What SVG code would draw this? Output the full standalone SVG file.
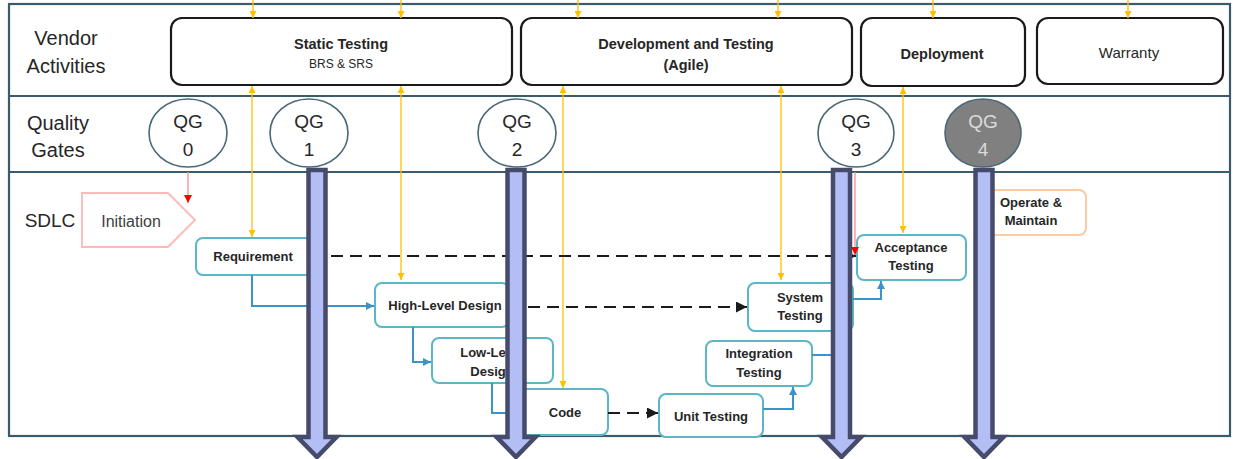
<svg xmlns="http://www.w3.org/2000/svg" width="1233" height="459" viewBox="0 0 1233 459">
<defs>
<style>
text{font-family:"Liberation Sans",Arial,sans-serif;fill:#262626;text-anchor:middle}
.lbl{font-size:20px}
.hdr{font-size:14.5px;font-weight:bold}
.qg{font-size:19px}
.nd{font-size:13px;font-weight:bold}
.act{fill:#fff;stroke:#1a1a1a;stroke-width:2.2}
.gate{fill:#fff;stroke:#4a6878;stroke-width:1.6}
.box{fill:#fff;stroke:#5ab8c6;stroke-width:2}
.tbl{fill:none;stroke:#3b5a6c;stroke-width:2.2}
.yl{fill:none;stroke:#ffc000;stroke-width:1.3}
.rl{fill:none;stroke:#ff8a8a;stroke-width:1.3}
.bl{fill:none;stroke:#3a93c9;stroke-width:2}
.dl{fill:none;stroke:#1a1a1a;stroke-width:2.2;stroke-dasharray:12 7}
.big{fill:#b3bef5;stroke:#464b6b;stroke-width:4.5;stroke-linejoin:miter}
</style>
<marker id="ya" viewBox="0 0 10 10" refX="10" refY="5" markerWidth="7" markerHeight="7" markerUnits="userSpaceOnUse" orient="auto-start-reverse"><path d="M0,0L10,5L0,10Z" fill="#ffc000"/></marker>
<marker id="ra" viewBox="0 0 10 10" refX="10" refY="5" markerWidth="8" markerHeight="8" markerUnits="userSpaceOnUse" orient="auto"><path d="M0,0L10,5L0,10Z" fill="#ff0000"/></marker>
<marker id="ba" viewBox="0 0 10 10" refX="10" refY="5" markerWidth="8" markerHeight="8" markerUnits="userSpaceOnUse" orient="auto"><path d="M0,0L10,5L0,10Z" fill="#3a93c9"/></marker>
<marker id="ka" viewBox="0 0 10 10" refX="10" refY="5" markerWidth="11" markerHeight="11" markerUnits="userSpaceOnUse" orient="auto"><path d="M0,0L10,5L0,10Z" fill="#1a1a1a"/></marker>
</defs>

<g id="table">
<rect class="tbl" x="9" y="4" width="1221" height="432"/>
<line class="tbl" x1="9" y1="96" x2="1230" y2="96"/>
<line class="tbl" x1="9" y1="172" x2="1230" y2="172"/>
<text class="lbl" x="66" y="45">Vendor</text>
<text class="lbl" x="66" y="73">Activities</text>
<text class="lbl" x="58" y="130">Quality</text>
<text class="lbl" x="58" y="157">Gates</text>
<text class="lbl" x="50" y="227" style="font-size:19px">SDLC</text>
</g>

<g id="static-testing">
<rect class="act" x="171" y="18" width="341" height="67" rx="11"/>
<text class="hdr" x="341" y="49">Static Testing</text>
<text x="341" y="68" style="font-size:12px">BRS &amp; SRS</text>
</g>
<g id="dev-testing">
<rect class="act" x="521" y="18" width="331" height="67" rx="11"/>
<text class="hdr" x="686" y="49">Development and Testing</text>
<text class="hdr" x="686" y="70">(Agile)</text>
</g>
<g id="deployment">
<rect class="act" x="861" y="18" width="164" height="68" rx="11"/>
<text class="hdr" x="942" y="59">Deployment</text>
</g>
<g id="warranty">
<rect class="act" x="1037" y="18" width="186" height="66" rx="11"/>
<text x="1129" y="58" style="font-size:15px">Warranty</text>
</g>

<g id="qg0"><ellipse class="gate" cx="188" cy="133" rx="39" ry="34"/><text class="qg" x="188" y="128">QG</text><text class="qg" x="188" y="156">0</text></g>
<g id="qg1"><ellipse class="gate" cx="309" cy="133" rx="39" ry="34"/><text class="qg" x="309" y="128">QG</text><text class="qg" x="309" y="156">1</text></g>
<g id="qg2"><ellipse class="gate" cx="517" cy="133" rx="39" ry="34"/><text class="qg" x="517" y="128">QG</text><text class="qg" x="517" y="156">2</text></g>
<g id="qg3"><ellipse class="gate" cx="856" cy="133" rx="38" ry="34"/><text class="qg" x="856" y="128">QG</text><text class="qg" x="856" y="156">3</text></g>
<g id="qg4"><ellipse class="gate" cx="983" cy="133" rx="38" ry="34" style="fill:#808080"/><text class="qg" x="983" y="128" style="fill:#dcdcdc">QG</text><text class="qg" x="983" y="156" style="fill:#dcdcdc">4</text></g>

<g id="initiation">
<path d="M82,193H168L195,220L168,247H82Z" fill="#fff" stroke="#ffb8b8" stroke-width="1.8"/>
<text x="131" y="227" style="font-size:16px;fill:#404040">Initiation</text>
</g>
<g id="requirement"><rect class="box" x="196" y="238" width="116" height="37" rx="7"/><text class="nd" x="253" y="261">Requirement</text></g>
<g id="high-level-design"><rect class="box" x="375" y="283" width="134" height="44" rx="7"/><text class="nd" x="445" y="310">High-Level Design</text></g>
<g id="low-level-design"><rect class="box" x="432" y="338" width="121" height="45" rx="7"/><text class="nd" x="492" y="357">Low-Level</text><text class="nd" x="492" y="376">Design</text></g>
<g id="code"><rect class="box" x="520" y="389" width="88" height="46" rx="7"/><text class="nd" x="565" y="417">Code</text></g>
<g id="unit-testing"><rect class="box" x="659" y="394" width="104" height="43" rx="7"/><text class="nd" x="711" y="421">Unit Testing</text></g>
<g id="integration-testing"><rect class="box" x="706" y="341" width="106" height="45" rx="7"/><text class="nd" x="759" y="358">Integration</text><text class="nd" x="759" y="377">Testing</text></g>
<g id="system-testing"><rect class="box" x="748" y="283" width="105" height="48" rx="7"/><text class="nd" x="800" y="302">System</text><text class="nd" x="800" y="320">Testing</text></g>
<g id="acceptance-testing"><rect class="box" x="857" y="235" width="109" height="45" rx="7"/><text class="nd" x="911" y="252">Acceptance</text><text class="nd" x="911" y="270">Testing</text></g>
<g id="operate-maintain"><rect x="975" y="190" width="111" height="45" rx="7" fill="#fff" stroke="#fbc9a2" stroke-width="2"/><text class="nd" x="1031" y="207">Operate &amp;</text><text class="nd" x="1031" y="225">Maintain</text></g>

<g id="connectors">
<path class="yl" d="M253,0V18" marker-end="url(#ya)"/>
<path class="yl" d="M401,0V18" marker-end="url(#ya)"/>
<path class="yl" d="M578,0V18" marker-end="url(#ya)"/>
<path class="yl" d="M778,0V18" marker-end="url(#ya)"/>
<path class="yl" d="M933,0V18" marker-end="url(#ya)"/>
<path class="yl" d="M1128,0V18" marker-end="url(#ya)"/>
<path class="yl" d="M252,86V237" marker-start="url(#ya)" marker-end="url(#ya)"/>
<path class="yl" d="M401,86V280" marker-start="url(#ya)" marker-end="url(#ya)"/>
<path class="yl" d="M563,86V388" marker-start="url(#ya)" marker-end="url(#ya)"/>
<path class="yl" d="M781,86V280" marker-start="url(#ya)" marker-end="url(#ya)"/>
<path class="yl" d="M903,87V233" marker-start="url(#ya)" marker-end="url(#ya)"/>
<path class="rl" d="M188,172V203" marker-end="url(#ra)"/>
<path class="rl" d="M855,172V255" marker-end="url(#ra)"/>
<path class="bl" d="M252,275V306H374" marker-end="url(#ba)"/>
<path class="bl" d="M413,327V362H431" marker-end="url(#ba)"/>
<path class="bl" d="M492,383V413H519" marker-end="url(#ba)"/>
<path class="bl" d="M763,409H793V387" marker-end="url(#ba)"/>
<path class="bl" d="M812,355H840V332"/>
<path class="bl" d="M853,299H881V281" marker-end="url(#ba)"/>
<path class="dl" d="M312,256H856" marker-end="url(#ka)"/>
<path class="dl" d="M509,307H747" marker-end="url(#ka)"/>
<path class="dl" d="M608,413H658" marker-end="url(#ka)"/>
</g>

<g id="gate-arrows">
<path class="big" d="M308.5,170H325.5V437H336.5L317,457L297.5,437H308.5Z"/>
<path class="big" d="M507.5,170H524.5V437H535.5L516,457L496.5,437H507.5Z"/>
<path class="big" d="M833,170H850V437H861L841.5,457L822,437H833Z"/>
<path class="big" d="M975.5,170H992.5V437H1003.5L984,457L964.5,437H975.5Z"/>
</g>
</svg>
